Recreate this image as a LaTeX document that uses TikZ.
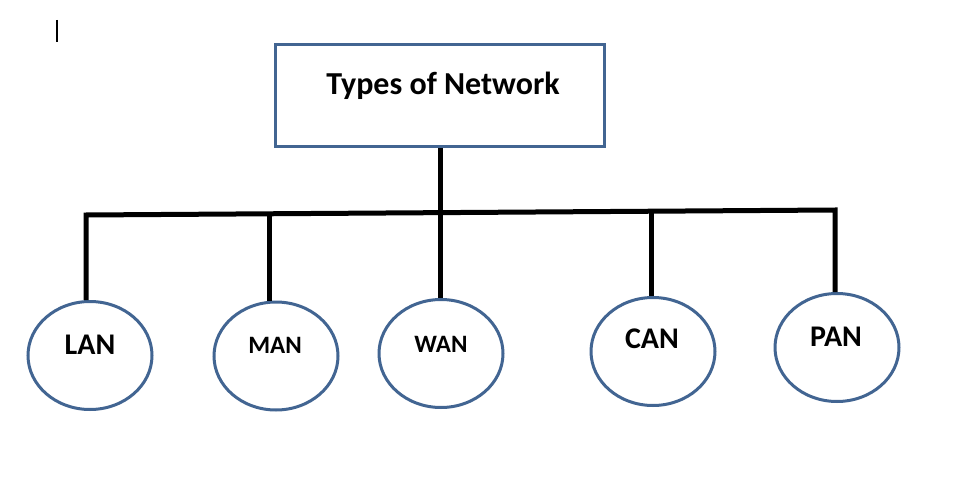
\documentclass[tikz,border=0pt]{standalone}
\usepackage{fontspec}
\setmainfont{Carlito}
\usetikzlibrary{shapes.geometric}
\definecolor{outl}{RGB}{66,101,146}
\begin{document}
\begin{tikzpicture}[x=1pt,y=-1pt,
  netbox/.style={draw=outl,line width=3pt,fill=white,inner sep=0pt,minimum width=329pt,minimum height=102pt},
  netell/.style={ellipse,draw=outl,line width=3pt,inner sep=0pt,minimum width=124pt,minimum height=108pt},
  bus/.style={line width=5pt,black},
  tlbl/.style={font=\bfseries\fontsize{32}{38}\selectfont,anchor=base,inner sep=0pt},
  lbl/.style={font=\bfseries\fontsize{30}{36}\selectfont,anchor=base,inner sep=0pt},
  slbl/.style={font=\bfseries\fontsize{25}{30}\selectfont,anchor=base,inner sep=0pt}]
\useasboundingbox (0,0) rectangle (956,487);
\fill[white] (0,0) rectangle (956,487);
% cursor mark
\coordinate (cura) at (57,20);
\coordinate (curb) at (57,42);
\draw[line width=2pt] (cura) -- (curb);
% top box
\node[netbox] (top) at (440,95.5) {};
\node[tlbl] (title) at (443,95) {Types of Network};
% ellipses
\node[netell] (lan) at (90,355.5) {};
\node[netell] (man) at (276,356) {};
\node[netell] (wan) at (441,353.5) {};
\node[netell] (can) at (653,351.5) {};
\node[netell] (pan) at (837,347.5) {};
\node[lbl]  (lant) at (90,354) {LAN};
\node[slbl] (mant) at (275,353) {MAN};
\node[slbl] (want) at (441,352) {WAN};
\node[lbl]  (cant) at (652,348) {CAN};
\node[lbl]  (pant) at (836,346) {PAN};
% bus
\coordinate (bl) at (86,215);
\coordinate (br) at (835,210);
\coordinate (jm) at (269,213.8);
\coordinate (jc) at (651,211.2);
\draw[bus] (lan.north -| bl) -- (bl) -- (br) -- (pan.north -| br);
\draw[bus] (top.south) -- (top.south |- wan.north);
\draw[bus] (jm) -- (jm |- man.north);
\draw[bus] (jc) -- (jc |- can.north);
\end{tikzpicture}
\end{document}
